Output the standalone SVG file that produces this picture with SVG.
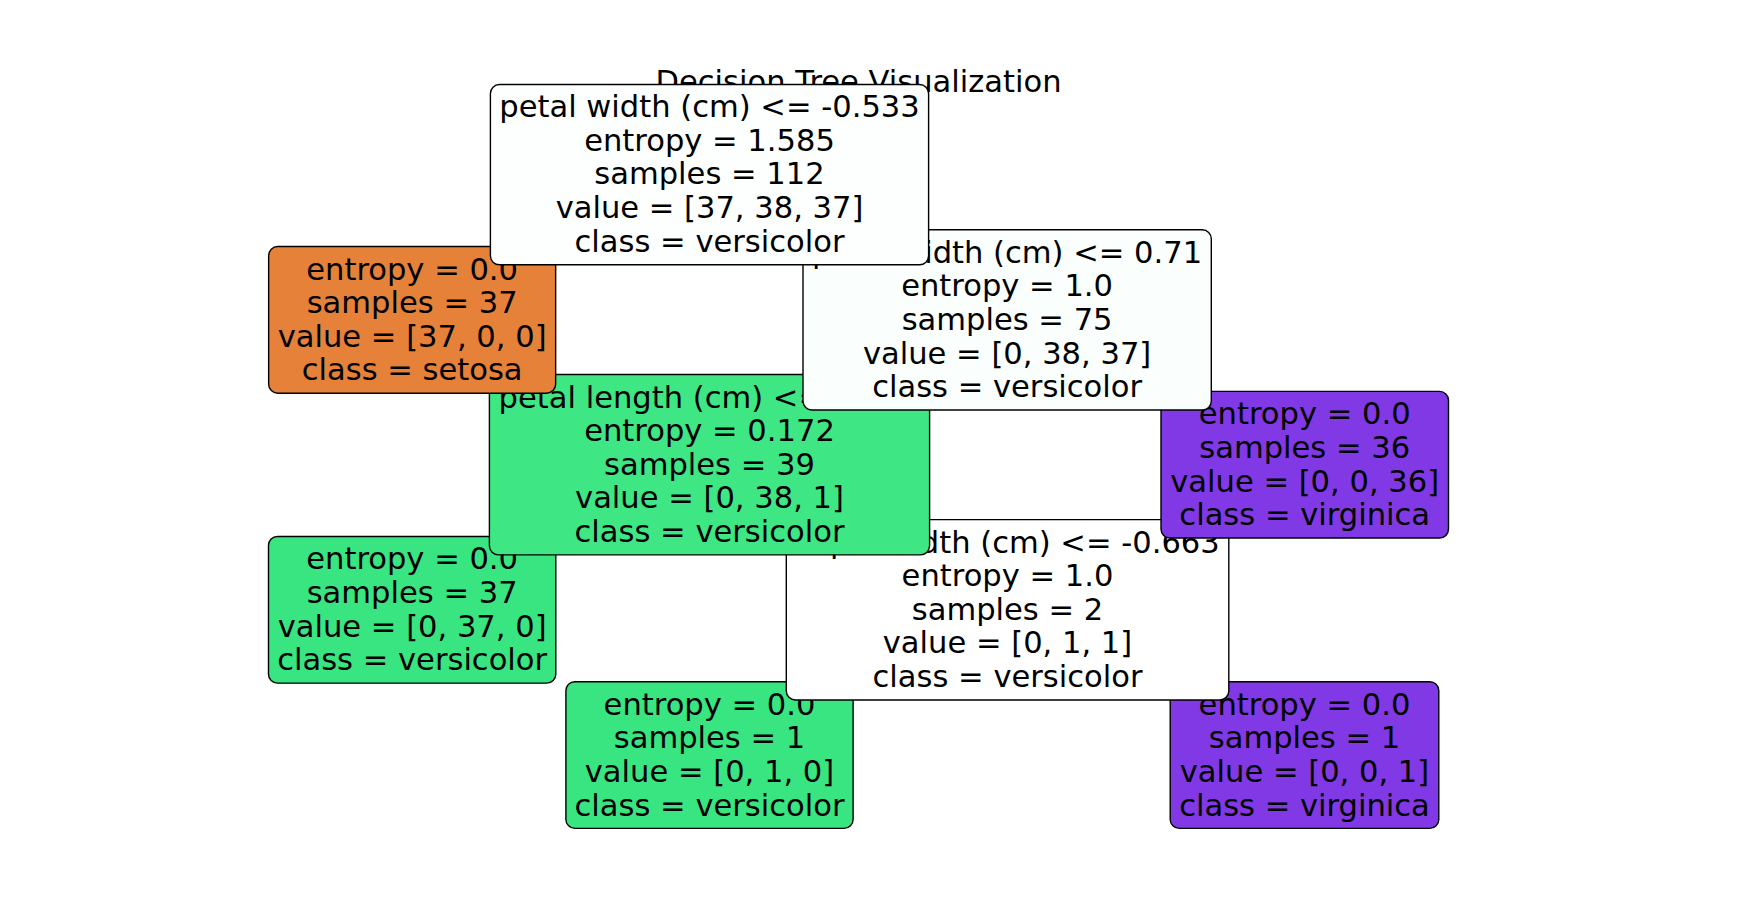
<svg xmlns="http://www.w3.org/2000/svg" width="1758" height="924" viewBox="0 0 1758 924">
<style>
text{font-family:"DejaVu Sans","Liberation Sans",sans-serif;font-size:30.56px;fill:#000}
.t{text-anchor:middle}
.box{stroke:#000;stroke-width:1.4}
.white{fill:#fcfffd}
.setosa{fill:#e58139}
.versi{fill:#39e581}
.virg{fill:#8139e5}
</style>
<rect x="0" y="0" width="1758" height="924" fill="#ffffff"/>
<text id="title" class="t" x="858.5" y="92.3">Decision Tree Visualization</text>
<g id="connectors"></g>

<g id="node-leaf-versicolor-1">
<rect class="box versi" x="565.9" y="681.7" width="287.2" height="146.7" rx="9"/>
<text class="t" x="709.5" y="714.7">entropy = 0.0<tspan x="709.5" dy="33.6">samples = 1</tspan><tspan x="709.5" dy="33.6">value = [0, 1, 0]</tspan><tspan x="709.5" dy="33.6">class = versicolor</tspan></text>
</g>
<g id="node-leaf-virginica-1">
<rect class="box virg" x="1170.2" y="681.7" width="268.6" height="146.7" rx="9"/>
<text class="t" x="1304.5" y="714.7">entropy = 0.0<tspan x="1304.5" dy="33.6">samples = 1</tspan><tspan x="1304.5" dy="33.6">value = [0, 0, 1]</tspan><tspan x="1304.5" dy="33.6">class = virginica</tspan></text>
</g>

<g id="node-leaf-versicolor-37">
<rect class="box versi" x="268.5" y="536.45" width="287.3" height="146.7" rx="9"/>
<text class="t" x="412.15" y="569.4">entropy = 0.0<tspan x="412.15" dy="33.6">samples = 37</tspan><tspan x="412.15" dy="33.6">value = [0, 37, 0]</tspan><tspan x="412.15" dy="33.6">class = versicolor</tspan></text>
</g>
<g id="node-sepal-width">
<rect class="box" fill="#ffffff" x="786.3" y="519.65" width="442.5" height="180.3" rx="9"/>
<text class="t" x="1007.5" y="552.6">sepal width (cm) &lt;= -0.663<tspan x="1007.5" dy="33.6">entropy = 1.0</tspan><tspan x="1007.5" dy="33.6">samples = 2</tspan><tspan x="1007.5" dy="33.6">value = [0, 1, 1]</tspan><tspan x="1007.5" dy="33.6">class = versicolor</tspan></text>
</g>

<g id="node-petal-length">
<rect class="box" fill="#3ee684" x="489.4" y="374.55" width="440.2" height="180.3" rx="9"/>
<text x="498.6" y="407.5">petal length (cm) &lt;=</text>
<text class="t" x="709.5" y="441.1">entropy = 0.172<tspan x="709.5" dy="33.6">samples = 39</tspan><tspan x="709.5" dy="33.6">value = [0, 38, 1]</tspan><tspan x="709.5" dy="33.6">class = versicolor</tspan></text>
</g>
<g id="node-leaf-virginica-36">
<rect class="box virg" x="1161" y="391.35" width="287.5" height="146.7" rx="9"/>
<text class="t" x="1304.7" y="424.3">entropy = 0.0<tspan x="1304.7" dy="33.6">samples = 36</tspan><tspan x="1304.7" dy="33.6">value = [0, 0, 36]</tspan><tspan x="1304.7" dy="33.6">class = virginica</tspan></text>
</g>

<g id="node-leaf-setosa">
<rect class="box setosa" x="268.65" y="246.55" width="287" height="146.7" rx="9"/>
<text class="t" x="412.15" y="279.5">entropy = 0.0<tspan x="412.15" dy="33.6">samples = 37</tspan><tspan x="412.15" dy="33.6">value = [37, 0, 0]</tspan><tspan x="412.15" dy="33.6">class = setosa</tspan></text>
</g>
<g id="node-petal-width-071">
<rect class="box" fill="#fafefc" x="803" y="229.75" width="408.3" height="180.3" rx="9"/>
<text class="t" x="1007.1" y="262.7">petal width (cm) &lt;= 0.71<tspan x="1007.1" dy="33.6">entropy = 1.0</tspan><tspan x="1007.1" dy="33.6">samples = 75</tspan><tspan x="1007.1" dy="33.6">value = [0, 38, 37]</tspan><tspan x="1007.1" dy="33.6">class = versicolor</tspan></text>
</g>

<g id="node-root">
<rect class="box white" x="490.4" y="84.5" width="438.2" height="180.3" rx="9"/>
<text class="t" x="709.5" y="117.2">petal width (cm) &lt;= -0.533<tspan x="709.5" dy="33.6">entropy = 1.585</tspan><tspan x="709.5" dy="33.6">samples = 112</tspan><tspan x="709.5" dy="33.6">value = [37, 38, 37]</tspan><tspan x="709.5" dy="33.6">class = versicolor</tspan></text>
</g>
</svg>
